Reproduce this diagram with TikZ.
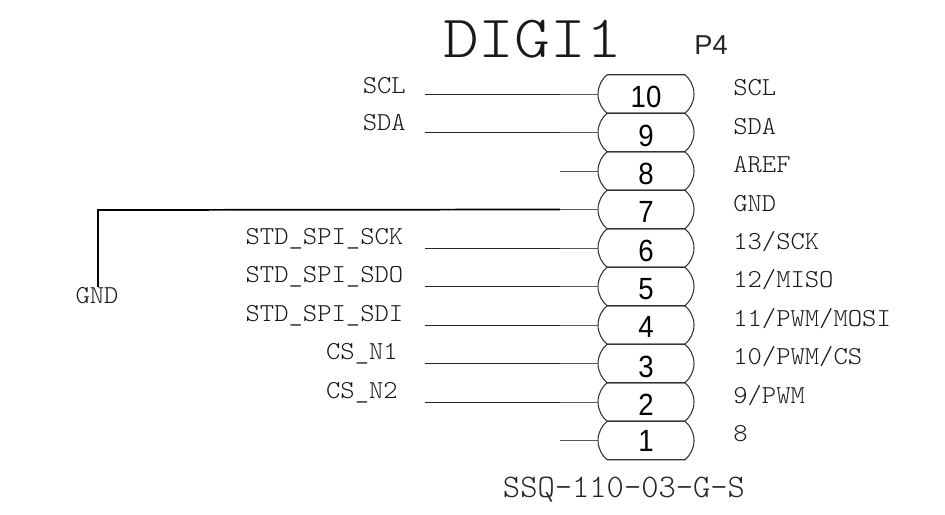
\documentclass[tikz,border=0pt]{standalone}
\usepackage{fontspec}
\setmainfont{Liberation Sans}
\newfontfamily\numfam[FakeStretch=0.9]{Liberation Sans}
\newfontfamily\lblfam[FakeStretch=1.055]{Latin Modern Mono Light}
\newfontfamily\titlefam[FakeStretch=1.135]{Latin Modern Mono Light}
\newfontfamily\partfam{Latin Modern Mono Light}
\tikzset{
  lbl/.style={inner sep=0pt,font=\fontsize{19.4pt}{21pt}\selectfont\lblfam,text=black!90},
  pinnum/.style={inner sep=0pt,minimum width=72pt,minimum height=28.9pt},
  pindigit/.style={inner sep=0pt,font=\fontsize{23pt}{25pt}\selectfont\numfam,text=black},
  pinbody/.style={draw=black!80,line width=0.8pt},
  stub/.style={draw=black!65,line width=0.7pt},
  wire/.style={draw=black!85,line width=0.75pt},
  gndwire/.style={draw=black,line width=1.3pt},
}
\begin{document}
\begin{tikzpicture}[x=0.75pt,y=-0.75pt]
\useasboundingbox (0,0) rectangle (945,514);
% pins
\foreach \n/\cy/\ty in {10/94/97,9/132.5/136,8/171/174,7/209.5/212,6/248/251,5/286.5/289,4/325/327,3/363.5/367,2/402/405,1/440.5/441}{
  \node[pinnum] (p\n) at (646,\cy) {};
  \node[pindigit] (t\n) at (646,\ty) {\n};
  \draw[pinbody] (607,\cy-19.25) -- (685,\cy-19.25)
    .. controls (690,\cy-15) and (694,\cy-8) .. (694,\cy)
    .. controls (694,\cy+8) and (690,\cy+15) .. (685,\cy+19.25)
    -- (607,\cy+19.25)
    .. controls (602,\cy+15) and (598,\cy+8) .. (598,\cy)
    .. controls (598,\cy-8) and (602,\cy-15) .. (607,\cy-19.25) -- cycle;
  \coordinate (s\n) at (560,\cy);
  \draw[stub] (s\n) -- (p\n.west);
}
% nets
\foreach \n/\lab/\rx/\ly in {10/SCL/406/86,9/SDA/406/123,6/STD\_SPI\_SCK/403.5/239,5/STD\_SPI\_SDO/403.5/277,4/STD\_SPI\_SDI/403.5/316,3/CS\_N1/398/354,2/CS\_N2/398/393}{
  \node[lbl,anchor=east] (l\n) at (\rx,\ly) {\lab};
  \coordinate (w\n) at (425,0 |- p\n);
  \draw[wire] (w\n) -- (s\n);
}
% right labels
\foreach \n/\lab/\ry in {10/{SCL}/88,9/{SDA}/127,8/{AREF}/165,7/{GND}/204,6/{13/SCK}/242,5/{12/MISO}/280,4/{11/PWM/MOSI}/319,3/{10/PWM/CS}/357,2/{9/PWM}/396,1/{8}/434}{
  \node[lbl,anchor=west] (r\n) at (733,\ry) {\lab};
}
% GND net
\node[lbl] (gnd) at (97,296) {GND};
\coordinate (gt) at (98,287);
\draw[gndwire] (gt) -- (98,210) -- (s7);
% titles
\node[inner sep=0pt,font=\fontsize{45pt}{48pt}\selectfont\titlefam,text=black!90] (title) at (532.5,39) {DIGI1};
\node[inner sep=0pt,font=\fontsize{20.5pt}{22pt}\selectfont,text=black!85] (ref) at (711,45) {P4};
\node[inner sep=0pt,font=\fontsize{24.7pt}{26pt}\selectfont\partfam,text=black!85] (part) at (624,490) {SSQ-110-03-G-S};
\end{tikzpicture}
\end{document}
